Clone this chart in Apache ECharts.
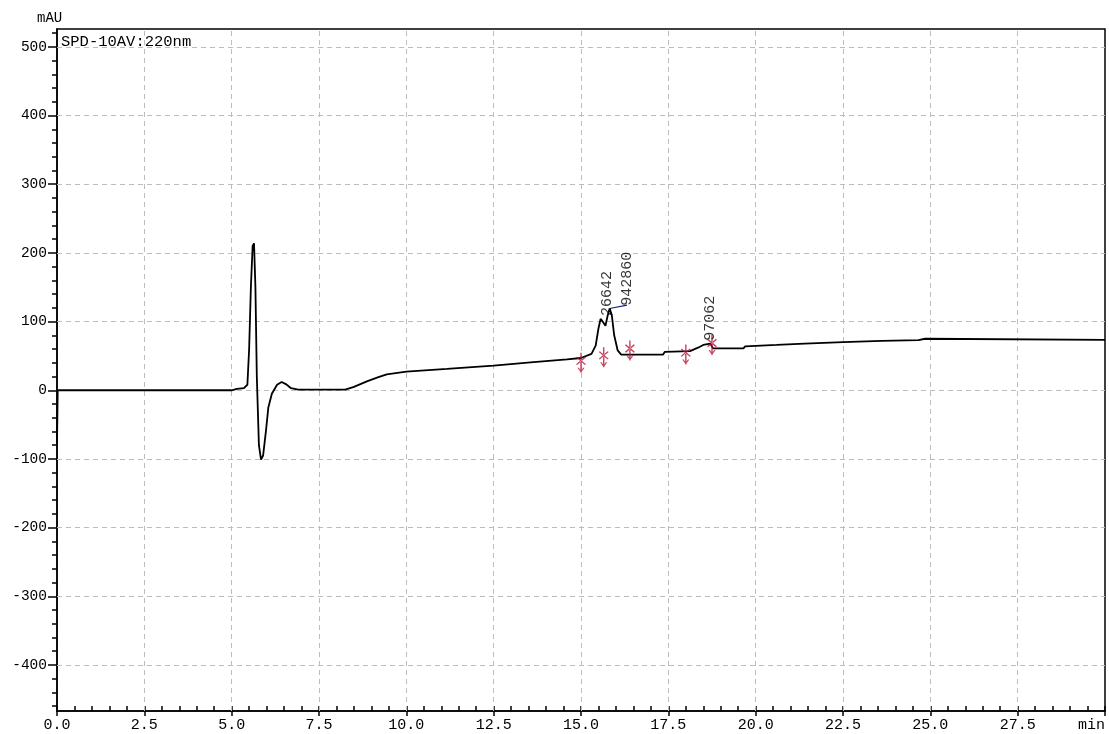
<!DOCTYPE html>
<html>
<head>
<meta charset="utf-8">
<script src="https://cdn.jsdelivr.net/npm/echarts@6/dist/echarts.min.js"></script>
<style>
html,body{margin:0;padding:0;background:#fff;}
#c{width:1109px;height:734px;}
</style>
</head>
<body>
<div id="c"></div>
<script>
// ---- data ----
const times = [0, 0.02, 5.0, 5.15, 5.35, 5.45, 5.5, 5.55, 5.6, 5.64, 5.68, 5.72, 5.78, 5.84, 5.9, 5.98, 6.05, 6.15, 6.3, 6.43, 6.55, 6.7, 6.9, 7.15, 7.2, 7.3, 8.25, 8.5, 8.87, 9.2, 9.44, 10.0, 11.16, 12.5, 13.64, 14.6, 15.0, 15.3, 15.42, 15.5, 15.56, 15.62, 15.7, 15.76, 15.82, 15.88, 15.95, 16.05, 16.15, 17.35, 17.4, 18.12, 18.35, 18.5, 18.7, 18.78, 19.65, 19.7, 20.6, 21.4, 22.5, 23.6, 24.66, 24.7, 24.85, 24.9, 30];
const signal = [-78, 0, 0, 2, 3, 8, 60, 150, 210, 214, 150, 20, -80, -101, -95, -60, -25, -5, 8, 12, 9, 3, 1, 1, 3, 1, 1, 5, 13, 19, 23, 27, 31, 36, 41, 45, 47, 53, 65, 90, 104, 100, 94, 108, 119, 110, 80, 58, 52, 52, 56, 57, 62, 66, 68, 61, 61, 64, 66, 68, 70, 72, 73, 75, 75, 73.5, 73.5];

// peak start/end markers (red)
const markerTimes = [15.0, 15.65, 16.4, 18.0, 18.75];
const markerValues = [40, 48, 58, 52, 66];

// peak labels (rotated text)
const peakLabels = ['26642', '942860', '97062'];
const peakLabelTimes = [15.75, 16.32, 18.69];
const peakLabelValues = [108, 123, 72];

// leader line from peak to label
const leaderTimes = [15.82, 16.32];
const leaderValues = [119, 124];

// axis ticks / labels
const xMajor = [0, 2.5, 5, 7.5, 10, 12.5, 15, 17.5, 20, 22.5, 25, 27.5, 30];
const xMinor = Array.from({length: 61}, (_, i) => i * 0.5);
const yMajor = [-400, -300, -200, -100, 0, 100, 200, 300, 400, 500];
const yMinor = Array.from({length: 50}, (_, i) => -460 + i * 20);
const xGrid = [2.5, 5, 7.5, 10, 12.5, 15, 17.5, 20, 22.5, 25, 27.5];

const FONT = 'Liberation Mono';
const X_MIN = 0, X_MAX = 30, Y_MIN = -467, Y_MAX = 526;

const chart = echarts.init(document.getElementById('c'), null, {renderer: 'canvas'});

const gridLineData = yMajor.map(v => ({yAxis: v})).concat(xGrid.map(v => ({xAxis: v})));

const option = {
  backgroundColor: '#fff',
  animation: false,
  title: [
    {text: 'mAU', left: 32, top: 6, textStyle: {fontFamily: FONT, fontSize: 14, fontWeight: 'normal', color: '#000'}},
    {text: 'SPD-10AV:220nm', left: 56, top: 29, textStyle: {fontFamily: FONT, fontSize: 15.5, fontWeight: 'normal', color: '#000'}}
  ],
  grid: {left: 57, right: 4, top: 29, bottom: 23, show: true, borderColor: '#000', borderWidth: 1.5, backgroundColor: '#fff'},
  xAxis: [
    {
      type: 'value', min: X_MIN, max: X_MAX, position: 'bottom',
      axisLine: {show: true, onZero: false, lineStyle: {color: '#000', width: 1.5}},
      axisTick: {show: true, customValues: xMajor, length: 5, lineStyle: {color: '#000', width: 1.5}},
      axisLabel: {
        show: true, customValues: xMajor, margin: 7, color: '#000', fontFamily: FONT, fontSize: 15,
        alignMaxLabel: 'right', showMaxLabel: true, showMinLabel: true, hideOverlap: false,
        formatter: v => (v === 30 ? 'min' : v.toFixed(1))
      },
      splitLine: {show: false}
    },
    {
      type: 'value', min: X_MIN, max: X_MAX, position: 'bottom', offset: 0,
      axisLine: {show: false, onZero: false},
      axisTick: {show: true, inside: true, customValues: xMinor, length: 5, lineStyle: {color: '#000', width: 1.5}},
      axisLabel: {show: false},
      splitLine: {show: false}
    }
  ],
  yAxis: [
    {
      type: 'value', min: Y_MIN, max: Y_MAX, position: 'left',
      axisLine: {show: true, onZero: false, lineStyle: {color: '#000', width: 1.5}},
      axisTick: {show: true, customValues: yMajor, length: 9, lineStyle: {color: '#000', width: 1.5}},
      axisLabel: {show: true, customValues: yMajor, margin: 10, color: '#000', fontFamily: FONT, fontSize: 14.5},
      splitLine: {show: false}
    },
    {
      type: 'value', min: Y_MIN, max: Y_MAX, position: 'left', offset: 0,
      axisLine: {show: false, onZero: false},
      axisTick: {show: true, customValues: yMinor, length: 5, lineStyle: {color: '#000', width: 1.5}},
      axisLabel: {show: false},
      splitLine: {show: false}
    }
  ],
  series: [
    {
      name: 'grid', type: 'line', data: [], xAxisIndex: 0, yAxisIndex: 0, silent: true, z: 1,
      markLine: {
        silent: true, symbol: ['none', 'none'], z: 1, animation: false,
        label: {show: false},
        lineStyle: {color: '#bdbdbd', type: [5, 4], width: 1},
        emphasis: {disabled: true},
        data: gridLineData
      }
    },
    {
      name: 'SPD-10AV:220nm', type: 'line', xAxisIndex: 0, yAxisIndex: 0, z: 3,
      showSymbol: false, symbol: 'none',
      lineStyle: {color: '#000', width: 1.8},
      data: times.map((t, i) => [t, signal[i]])
    },
    {
      name: 'leader', type: 'line', xAxisIndex: 0, yAxisIndex: 0, z: 4,
      showSymbol: false, symbol: 'none',
      lineStyle: {color: '#1a237e', width: 1.2},
      data: leaderTimes.map((t, i) => [t, leaderValues[i]])
    },
    {
      name: 'markers', type: 'scatter', xAxisIndex: 0, yAxisIndex: 0, z: 5,
      symbol: 'path://M4.4,0h1.2v20h-1.2z M0.8,4.8l0.9,-0.9l7.5,7.5l-0.9,0.9z M9.2,4.8l-0.9,-0.9l-7.5,7.5l0.9,0.9z M5,20l-3,-5h1.2l1.8,3l1.8,-3h1.2z',
      symbolSize: [10, 20],
      itemStyle: {color: '#b81838'},
      data: markerTimes.map((t, i) => [t, markerValues[i]])
    },
    {
      name: 'peakLabels', type: 'scatter', xAxisIndex: 0, yAxisIndex: 0, z: 6,
      symbolSize: 0,
      label: {
        show: true, rotate: 90, position: [0, 0], align: 'left', verticalAlign: 'middle',
        fontFamily: FONT, fontSize: 15, color: '#000',
        formatter: p => p.name
      },
      data: peakLabels.map((n, i) => ({name: n, value: [peakLabelTimes[i], peakLabelValues[i]]}))
    }
  ]
};
chart.setOption(option);
</script>
</body>
</html>
